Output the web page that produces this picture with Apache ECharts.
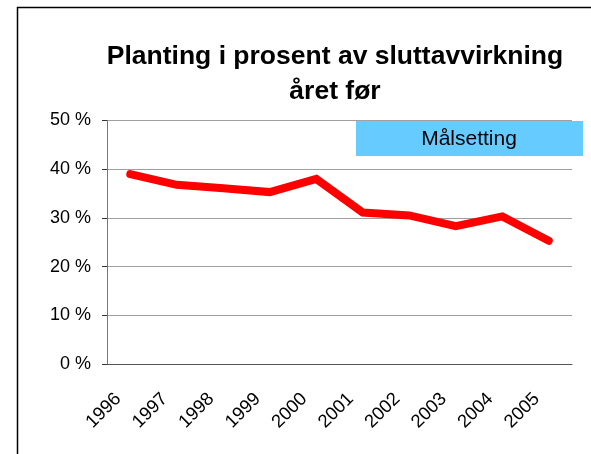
<!DOCTYPE html>
<html>
<head>
<meta charset="utf-8">
<script src="https://cdn.jsdelivr.net/npm/echarts@6/dist/echarts.min.js"></script>
<style>
html, body { margin: 0; padding: 0; background: #fff; }
#chart { width: 591px; height: 454px; }
</style>
</head>
<body>
<div id="chart"></div>
<script>
// data
var years = ['1996', '1997', '1998', '1999', '2000', '2001', '2002', '2003', '2004', '2005'];
var planting = [39.0, 36.8, 36.1, 35.3, 38.0, 31.1, 30.5, 28.3, 30.3, 25.3];
var yTicks = [0, 10, 20, 30, 40, 50];

var myChart = echarts.init(document.getElementById('chart'));
var font = '"Liberation Sans", Arial, sans-serif';

option = {
    animation: false,
    backgroundColor: '#ffffff',
    title: {
        text: 'Planting i prosent av sluttavvirkning\nåret før',
        left: 330,
        top: 34,
        textAlign: 'center',
        textStyle: {
            fontFamily: font,
            fontSize: 26.5,
            fontWeight: 'bold',
            color: '#000',
            lineHeight: 35
        }
    },
    grid: {
        left: 107,
        right: 19,
        top: 120.5,
        bottom: 90
    },
    xAxis: {
        type: 'category',
        data: years,
        boundaryGap: true,
        axisLine: { lineStyle: { color: '#555', width: 1 } },
        axisTick: { alignWithLabel: false, length: 5, lineStyle: { color: '#333' } },
        axisLabel: {
            rotate: 45,
            interval: 0,
            margin: 20,
            padding: [0, 17, 0, 0],
            fontFamily: font,
            fontSize: 18.5,
            color: '#000'
        },
        splitLine: { show: false }
    },
    yAxis: {
        type: 'value',
        min: yTicks[0],
        max: yTicks[yTicks.length - 1],
        interval: 10,
        axisLine: { show: true, lineStyle: { color: '#777', width: 1 } },
        axisTick: { show: true, length: 5, lineStyle: { color: '#333' } },
        axisLabel: {
            formatter: '{value} %',
            margin: 16,
            fontFamily: font,
            fontSize: 18,
            color: '#000'
        },
        splitLine: { lineStyle: { color: '#a0a0a0', width: 1 } }
    },
    series: [
        {
            name: 'Planting',
            type: 'line',
            data: planting,
            symbol: 'none',
            lineStyle: { color: '#ff0000', width: 8, cap: 'round', join: 'miter' }
        }
    ],
    graphic: [
        {
            type: 'rect',
            shape: { x: 17.5, y: 7.5, width: 800, height: 800 },
            style: { fill: 'none', stroke: '#000', lineWidth: 1.5 },
            silent: true
        },
        {
            type: 'rect',
            shape: { x: 356, y: 121, width: 227, height: 35 },
            style: { fill: '#66ccff' },
            z: 100
        },
        {
            type: 'text',
            x: 469,
            y: 139,
            style: {
                text: 'Målsetting',
                fill: '#000',
                font: '21px ' + font,
                align: 'center',
                verticalAlign: 'middle'
            },
            z: 101
        }
    ]
};

myChart.setOption(option);
</script>
</body>
</html>
